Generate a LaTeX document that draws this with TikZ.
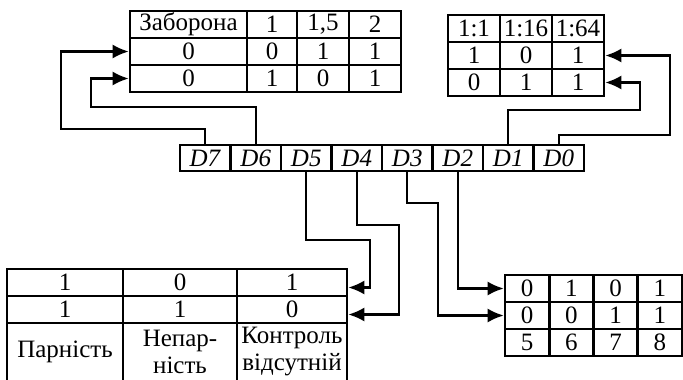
\documentclass[tikz,border=0pt]{standalone}
\usepackage{fontspec}
\setmainfont{Liberation Serif}
\usetikzlibrary{arrows.meta}
\tikzset{
  cell/.style={draw, line width=2.6pt, inner sep=0pt, minimum height=27pt,
    font=\fontsize{25}{27}\selectfont, align=center},
  conn/.style={line width=2.2pt, -{Latex[length=16pt,width=14pt]}},
}

\begin{document}
\begin{tikzpicture}[x=1pt,y=-1pt]
    \useasboundingbox (0,0) rectangle (683,380);
    % Register
    \foreach \b [count=\i from 0] in {7,6,...,0}
      \node[cell, minimum width=50.5pt, minimum height=26pt] (d\b) at (205.25+50.5*\i,158) {\textit{D\b}};
    % Zaborona table
    \node[cell, minimum width=117pt] (zab11) at (188.5,24.5) {Заборона};
    \node[cell, minimum width=50pt] (zab12) at (272,24.5) {1};
    \node[cell, minimum width=52pt] (zab13) at (323,24.5) {1,5};
    \node[cell, minimum width=52pt] (zab14) at (375,24.5) {2};
    \node[cell, minimum width=117pt] (zab21) at (188.5,51.5) {0};
    \node[cell, minimum width=50pt] (zab22) at (272,51.5) {0};
    \node[cell, minimum width=52pt] (zab23) at (323,51.5) {1};
    \node[cell, minimum width=52pt] (zab24) at (375,51.5) {1};
    \node[cell, minimum width=117pt] (zab31) at (188.5,78.5) {0};
    \node[cell, minimum width=50pt] (zab32) at (272,78.5) {1};
    \node[cell, minimum width=52pt] (zab33) at (323,78.5) {0};
    \node[cell, minimum width=52pt] (zab34) at (375,78.5) {1};
    % Scale table
    \foreach \t [count=\c] in {1:1,1:16,1:64}
      \node[cell, minimum width=52pt] (mas1\c) at (422+52*\c,28.5) {\t};
    \foreach \t [count=\c] in {1,0,1}
      \node[cell, minimum width=52pt] (mas2\c) at (422+52*\c,55.5) {\t};
    \foreach \t [count=\c] in {0,1,1}
      \node[cell, minimum width=52pt] (mas3\c) at (422+52*\c,82.5) {\t};
    % Parity table
    \node[cell, minimum width=116pt] (par11) at (65,282.5) {1};
    \node[cell, minimum width=114pt] (par12) at (180,282.5) {0};
    \node[cell, minimum width=110pt] (par13) at (292,282.5) {1};
    \node[cell, minimum width=116pt] (par21) at (65,309.5) {1};
    \node[cell, minimum width=114pt] (par22) at (180,309.5) {1};
    \node[cell, minimum width=110pt] (par23) at (292,309.5) {0};
    \node[cell, minimum width=116pt, minimum height=58pt] (par31) at (65,352) {Парність};
    \node[cell, minimum width=114pt, minimum height=58pt] (par32) at (180,352) {Непар-\\ність};
    \node[cell, minimum width=110pt, minimum height=58pt] (par33) at (292,352) {Контроль\\відсутній};
    % Code table
    \foreach \t [count=\c] in {0,1,0,1}
      \node[cell, minimum width=44.25pt] (kod1\c) at (482.9+44.25*\c,288.5) {\t};
    \foreach \t [count=\c] in {0,0,1,1}
      \node[cell, minimum width=44.25pt] (kod2\c) at (482.9+44.25*\c,315.5) {\t};
    \foreach \t [count=\c] in {5,6,7,8}
      \node[cell, minimum width=44.25pt] (kod3\c) at (482.9+44.25*\c,342.5) {\t};
    % Bends
    \coordinate (b7) at (61,129);
    \coordinate (b6) at (91,107);
    \coordinate (b5) at (370,240);
    \coordinate (b4) at (399,225);
    \coordinate (b3) at (438,203);
    \coordinate (b1) at (640,110);
    \coordinate (b0) at (670,135);
    % Connectors
    \draw[conn] (d7.north) |- (b7) |- (zab21.west);
    \draw[conn] (d6.north) |- (b6) |- (zab31.west);
    \draw[conn] (d5.south) |- (b5) |- ([yshift=-5pt]par13.east);
    \draw[conn] (d4.south) |- (b4) |- ([yshift=-5pt]par23.east);
    \draw[conn] (d3.south) |- (b3) |- (kod21.west);
    \draw[conn] (d2.south) |- (kod11.west);
    \draw[conn] (d1.north) |- (b1) |- (mas33.east);
    \draw[conn] (d0.north) |- (b0) |- (mas23.east);
\end{tikzpicture}
\end{document}
